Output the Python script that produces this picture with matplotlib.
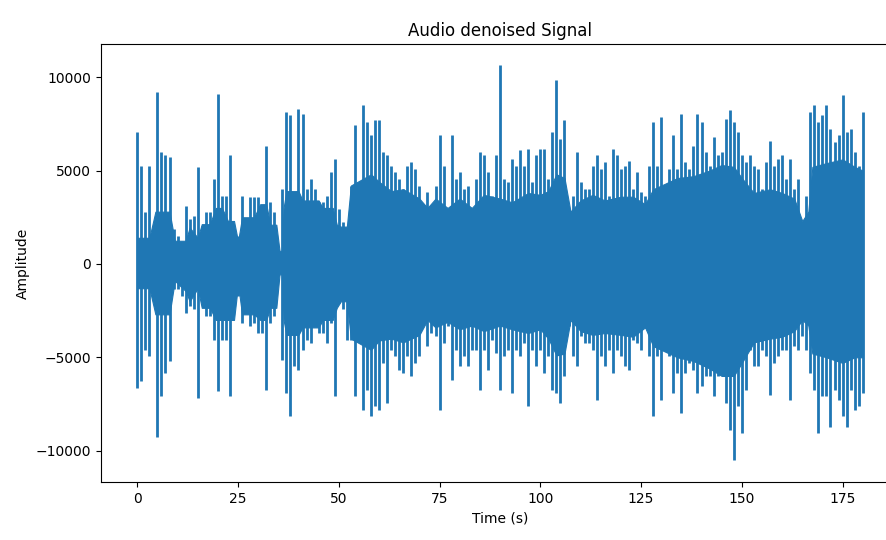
import numpy as np
import matplotlib
matplotlib.use("Agg")
import matplotlib.pyplot as plt

time_s = list(range(0, 181))

peak_hi = [
    7060, 5270, 2760, 5270, 1500, 9210, 5990, 5810, 5720, 1860,
    1500, 1150, 3120, 2400, 2580, 5180, 2040, 2760, 2760, 4550,
    9120, 3660, 3660, 5810, 1500, 1500, 3660, 1150, 3570, 3570,
    3570, 2580, 6340, 3300, 2760, 790, 4010, 8140, 7960, 2940,
    8320, 8050, 4010, 4550, 4010, 3300, 3300, 3660, 4910, 5630,
    2940, 2220, 1860, 4190, 7420, 2940, 8490, 7600, 6880, 7690,
    7690, 5990, 5810, 5270, 4910, 4550, 4010, 5270, 5450, 5090,
    4190, 2400, 3840, 2760, 4190, 6880, 5270, 2490, 6880, 4550,
    4910, 4010, 4190, 2940, 4550, 5990, 5810, 4910, 3660, 5810,
    10650, 4550, 4370, 5630, 5270, 6080, 5270, 6160, 4370, 5810,
    6160, 6160, 4550, 7060, 9840, 6700, 7690, 2940, 3660, 5990,
    4370, 4010, 4010, 5270, 5810, 5090, 5450, 3660, 6160, 5810,
    5090, 5270, 5540, 4010, 4910, 3840, 3660, 5270, 7600, 5270,
    7870, 4010, 5090, 6880, 5090, 8050, 5450, 5090, 6340, 8050,
    7600, 5990, 5270, 6790, 5810, 5990, 7780, 8230, 7600, 7060,
    5810, 5450, 5810, 5270, 5090, 4010, 5450, 6610, 5270, 5630,
    5810, 4550, 5630, 4010, 4550, 2220, 3660, 8140, 8490, 7600,
    7960, 8490, 7240, 6520, 6880, 9030, 7060, 7240, 5990, 5270,
    8140,
]

peak_lo = [
    -6650, -6290, -4590, -4950, -1360, -9250, -7100, -5840, -5220, -1360,
    -1360, -1720, -2620, -2260, -2440, -7190, -1720, -2800, -2800, -4050,
    -6830, -4050, -4050, -7100, -1720, -1720, -3150, -2440, -3330, -3150,
    -3690, -3690, -6740, -3150, -2800, -650, -5130, -6920, -8170, -5480,
    -5660, -4590, -4050, -4230, -3150, -3690, -3690, -4230, -3150, -7100,
    -2080, -2440, -4050, -4050, -7100, -3330, -7810, -6740, -8170, -7630,
    -7810, -5300, -7460, -4590, -4950, -5660, -5840, -4950, -6020, -5300,
    -4950, -2800, -4410, -3690, -3870, -7810, -4230, -3330, -6200, -4590,
    -5480, -4950, -5480, -4590, -4590, -6740, -4590, -5660, -4050, -4770,
    -6740, -4950, -4590, -6920, -4590, -4950, -4230, -7630, -4590, -5480,
    -4590, -5840, -4950, -6740, -6920, -7460, -6020, -3330, -4950, -5480,
    -3870, -4230, -4230, -4590, -7280, -4950, -5480, -4590, -5840, -4590,
    -4950, -5480, -5660, -4050, -4230, -4590, -3150, -4950, -8170, -4950,
    -7280, -4590, -4950, -6920, -5840, -7990, -5840, -5300, -5660, -6920,
    -6560, -6020, -6020, -7100, -6020, -5840, -7460, -8890, -10500, -7630,
    -9070, -6740, -4590, -5480, -5480, -4590, -4950, -7010, -5300, -4950,
    -4590, -4590, -7280, -4410, -4590, -3870, -4590, -5840, -6740, -9070,
    -7100, -7100, -8710, -6740, -7280, -8170, -8710, -6740, -7810, -7630,
    -6920,
]

# Dense body of the waveform (solid core), read at irregular times (s)
core_t = [0, 1.5, 3, 4.5, 8, 9.3, 12, 13, 15, 16, 18, 19.5, 21, 22.5, 24, 25,
          26, 29, 30.5, 32, 33, 34.5, 35.3, 35.9, 36.3, 37, 40, 41, 45, 46,
          48.5, 49.5, 50.5, 52, 53, 58, 60, 63, 66, 70, 72, 74, 77, 80, 83,
          86, 90, 93, 97, 100, 102, 104, 106, 107.5, 110, 113, 116, 120, 123,
          126, 128, 131, 134, 138, 142, 145, 148, 150, 153, 157, 160, 163,
          165, 166.5, 167.5, 171, 175, 178, 180]
core_hi = [1400, 1400, 1400, 2800, 2800, 1240, 1240, 1950, 1400, 2130, 2130,
           3000, 3000, 2300, 2300, 1200, 2500, 2500, 3200, 3200, 2100, 2100,
           700, 700, 3000, 3900, 3900, 3400, 3400, 3000, 3000, 2100, 2000,
           2000, 4200, 4800, 4400, 3900, 4000, 3500, 3000, 3500, 3000, 3500,
           3000, 3700, 3500, 3300, 3800, 3700, 3900, 4800, 4600, 2800, 3400,
           3700, 3400, 3600, 3600, 3200, 4000, 4300, 4600, 4700, 5000, 5300,
           5200, 4600, 3800, 4000, 3800, 3500, 2300, 2800, 5200, 5400, 5600,
           5200, 5000]
core_lo = [-1300, -1300, -1300, -2700, -2700, -900, -1450, -2000, -1300,
           -2350, -2350, -3000, -3000, -3000, -3000, -1100, -2700, -2700,
           -3000, -3000, -2350, -2350, -560, -560, -3000, -3800, -3800, -3400,
           -3400, -3000, -3000, -2350, -2000, -2000, -4000, -4600, -4100,
           -4000, -4200, -3800, -3000, -3400, -3100, -3500, -3300, -3600,
           -3300, -3500, -3700, -3500, -4000, -4900, -4800, -3000, -3600,
           -3800, -3700, -3800, -3900, -3400, -4400, -4700, -5000, -5200,
           -5600, -6000, -6000, -5300, -4200, -4000, -3900, -3600, -3000,
           -3300, -4800, -5000, -5300, -5000, -5000]

color = "#1f77b4"
fig = plt.figure(figsize=(8.87, 5.40), dpi=100)
ax = fig.add_axes([101 / 887, 1 - 482 / 540, (899 - 101) / 887, (482 - 44) / 540])
ax.fill_between(core_t, core_lo, core_hi, color=color, linewidth=0.8)
ax.vlines(time_s, peak_lo, peak_hi, color=color, linewidth=2.0)
ax.set_xlim(-9, 189)
ax.set_ylim(-11680, 11780)
ax.set_title("Audio denoised Signal", fontsize=12)
ax.set_xlabel("Time (s)", fontsize=10)
ax.set_ylabel("Amplitude", fontsize=10)
ax.tick_params(labelsize=10)
fig.savefig("out.png", dpi=100)
